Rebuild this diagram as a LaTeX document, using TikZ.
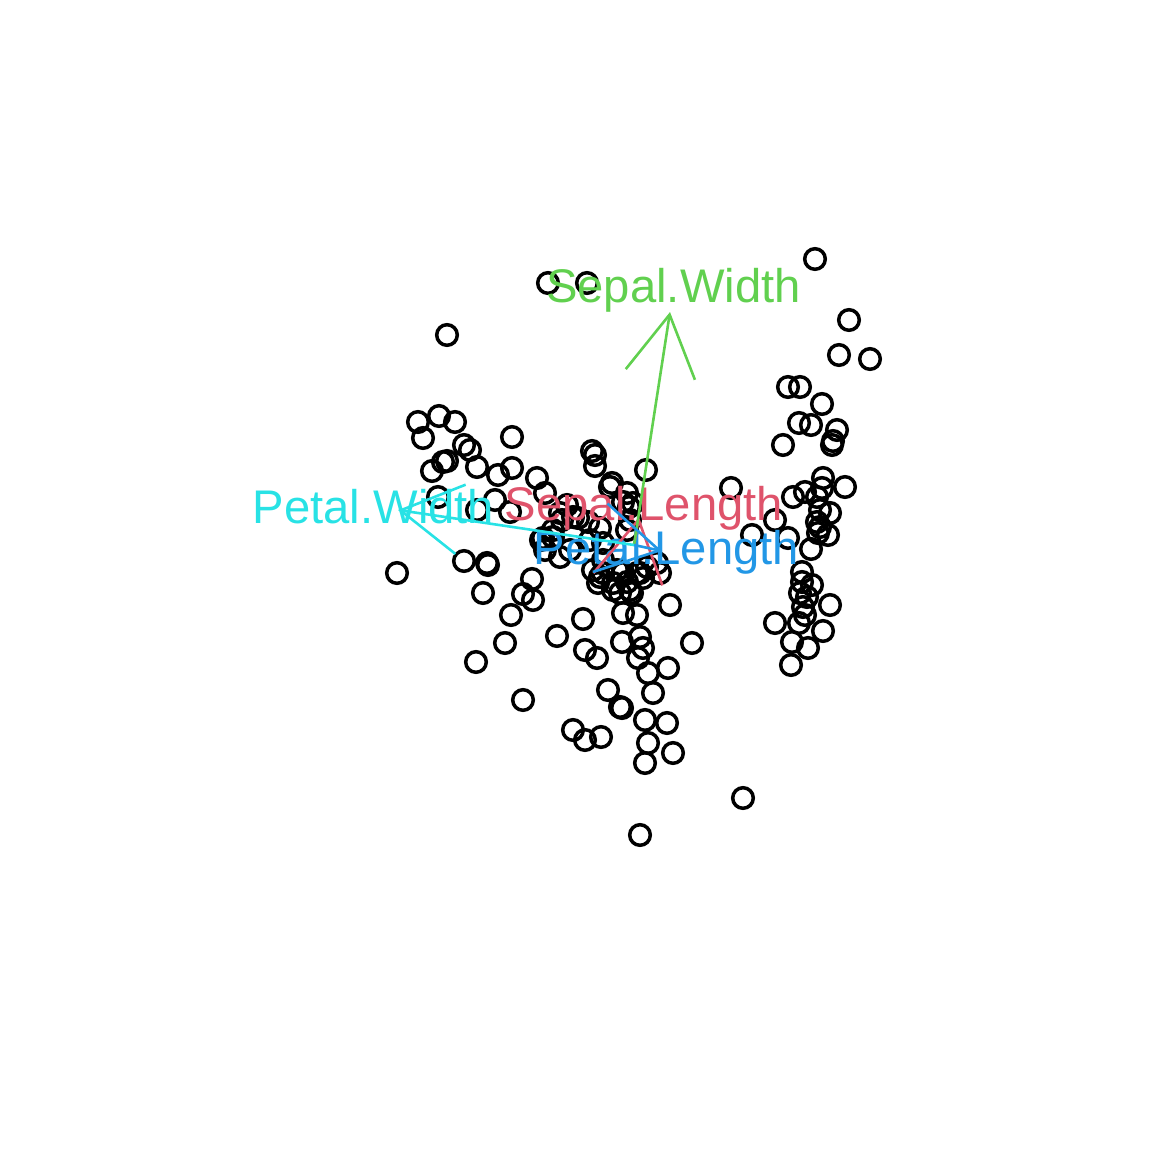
\documentclass[tikz,border=0pt]{standalone}
\usepackage{fontspec}
\setmainfont{Liberation Sans}
\usetikzlibrary{arrows.meta}
\definecolor{slcol}{HTML}{DF536B}
\definecolor{swcol}{HTML}{61D04F}
\definecolor{plcol}{HTML}{2297E6}
\definecolor{pwcol}{HTML}{28E2E5}
\tikzset{
  obs/.style={draw=black, line width=1.75pt},
  loading/.style={line width=1.3pt, -{Straight Barb[length=30.3pt,width=35pt]}},
  varlab/.style={anchor=base, inner sep=0pt, font=\fontsize{23.6}{28}\selectfont}
}

\begin{document}
\begin{tikzpicture}[x=0.5pt,y=-0.5pt]
\useasboundingbox (0,0) rectangle (1152,1152);

% observations
\foreach \px/\py in {815/259,548/283,587/283,447/335,849/320,839/355,870/359,
  788/387,800/387,822/404,799/423,811/425,837/430,833/441,832/445,783/445,
  823/478,845/487,822/488,793/497,805/492,817/497,731/488,775/520,820/510,
  830/513,817/522,820/527,828/535,818/533,752/535,788/538,811/549,802/572,
  802/582,812/585,800/593,807/597,830/605,803/607,805/615,775/623,799/623,
  823/631,792/642,808/648,791/665,
  418/422,439/416,455/422,423/438,512/437,464/445,470/450,443/462,432/471,
  447/461,477/467,498/475,512/468,537/478,438/497,545/493,477/510,495/500,
  510/512,
  397/573,464/561,487/563,488/565,483/593,532/579,523/594,533/600,511/615,
  557/636,505/643,476/662,523/700,583/619,585/650,543/538,560/557,553/537,
  592/451,595/455,595/466,646/470,610/487,627/493,623/502,630/520,567/505,
  560/513,553/530,573/517,570/550,590/540,603/543,627/530,593/570,600/577,
  613/583,623/573,637/573,643/578,657/563,620/593,603/573,598/583,613/590,
  632/593,627/582,640/573,660/573,670/605,623/613,637/615,622/642,640/637,
  643/648,638/658,597/658,668/668,692/643,648/673,653/693,608/690,620/707,
  622/708,645/720,667/723,573/730,585/740,601/737,648/743,673/753,645/763,
  743/798,640/835,541/540,588/522,629/507,
  612/483,633/503,562/520,578/518,600/528,545/550,603/560,617/570,647/567,
  630/590}
  \draw[obs] (\px,\py) circle (10.3);

% variable labels
\node[varlab, slcol] (sllab) at (644,520) {Sepal.Length};
\node[varlab, swcol] (swlab) at (673.5,302) {Sepal.Width};
\node[varlab, plcol] (pllab) at (666.5,564) {Petal.Length};
\node[varlab, pwcol] (pwlab) at (373.5,523) {Petal.Width};

% loadings
\coordinate (origin) at (634,545);
\coordinate (sltip) at (639,517);
\coordinate (swtip) at (670,312);
\coordinate (pltip) at (662,551);
\coordinate (pwtip) at (398,510);
\draw[loading, slcol] (origin) -- (sltip);
\draw[loading, swcol] (origin) -- (swtip);
\draw[loading, plcol] (origin) -- (pltip);
\draw[loading, pwcol] (origin) -- (pwtip);
\end{tikzpicture}
\end{document}
